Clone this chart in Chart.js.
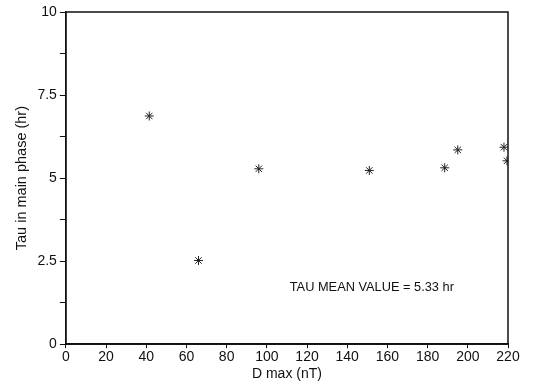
<!DOCTYPE html>
<html>
<head>
<meta charset="utf-8">
<script src="https://cdn.jsdelivr.net/npm/chart.js@4"></script>
<style>
  html, body { margin: 0; padding: 0; background: #fff; }
  #wrap { width: 535px; height: 387px; }
</style>
</head>
<body>
<div id="wrap"><canvas id="chart"></canvas></div>
<script>
const dMax = [41.5, 66, 96, 151, 188.5, 195, 218, 219.5]
const tauMain = [6.87, 2.52, 5.28, 5.23, 5.31, 5.85, 5.93, 5.52]
const yLabels = ["0", "2.5", "5", "7.5", "10"]
const meanLabel = "TAU MEAN VALUE = 5.33 hr"

const FONT = "'Liberation Sans', Arial, sans-serif"

// frame on top/right + annotation text
const framePlugin = {
  id: "frame",
  afterDraw(chart) {
    const { ctx, chartArea: a, scales } = chart
    ctx.save()
    ctx.strokeStyle = "#111"
    ctx.lineWidth = 1.5
    ctx.strokeRect(a.left, a.top, a.right - a.left, a.bottom - a.top)
    ctx.fillStyle = "#111"
    ctx.font = "12.8px " + FONT
    ctx.textBaseline = "middle"
    ctx.fillText(meanLabel, scales.x.getPixelForValue(111.4), scales.y.getPixelForValue(1.7))
    ctx.restore()
  },
}

new Chart(document.getElementById("chart"), {
  type: "scatter",
  data: {
    datasets: [
      {
        data: dMax.map((x, i) => ({ x: x, y: tauMain[i] })),
        pointStyle: "star",
        radius: 4.5,
        borderColor: "#222",
        borderWidth: 1,
        backgroundColor: "#222",
      },
    ],
  },
  options: {
    responsive: true,
    maintainAspectRatio: false,
    animation: false,
    layout: { padding: { left: 9, right: 27, top: 12, bottom: 0 } },
    scales: {
      x: {
        min: 0,
        max: 220,
        ticks: { stepSize: 20, color: "#111", font: { family: FONT, size: 14, lineHeight: 1 }, padding: 2, maxRotation: 0 },
        grid: { drawOnChartArea: false, color: "#111", tickLength: 4 },
        border: { color: "#111", width: 1.5 },
        title: { display: true, text: "D max (nT)", color: "#111", font: { family: FONT, size: 14 }, padding: { top: 0 } },
      },
      y: {
        min: 0,
        max: 10,
        ticks: {
          stepSize: 1.25,
          color: "#111",
          font: { family: FONT, size: 14 },
          padding: 3,
          autoSkip: false,
          callback: v => (Math.abs(v / 2.5 - Math.round(v / 2.5)) < 1e-6 ? yLabels[Math.round(v / 2.5)] : ""),
        },
        grid: { drawOnChartArea: false, color: "#111", tickLength: 6 },
        border: { color: "#111", width: 1.5 },
        title: { display: true, text: "Tau in main phase (hr)", color: "#111", font: { family: FONT, size: 14.5 }, padding: { bottom: 4 } },
      },
    },
    plugins: {
      legend: { display: false },
      tooltip: { enabled: false },
    },
  },
  plugins: [framePlugin],
})
</script>
</body>
</html>
